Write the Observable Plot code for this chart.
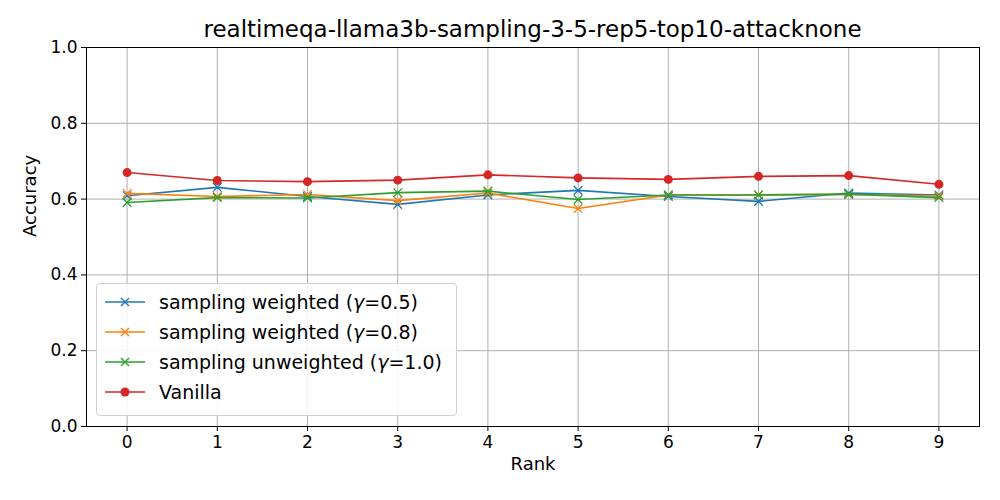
<!DOCTYPE html>
<html><head><meta charset="utf-8">
<script src="https://cdn.jsdelivr.net/npm/d3@7"></script>
<script src="https://cdn.jsdelivr.net/npm/@observablehq/plot@0.6"></script>
<style>
body{margin:0;background:#fff;font-family:"DejaVu Sans",sans-serif;}
#wrap{position:relative;width:1000px;height:500px;}
#title{position:absolute;top:16px;left:86px;width:893px;text-align:center;font-size:23px;}
#legend{position:absolute;left:96px;top:283px;width:359px;height:131px;border:1px solid #d0d0d0;border-radius:4px;background:rgba(255,255,255,0.85);font-size:19px;}
.row{position:absolute;left:8px;height:24px;display:flex;align-items:center;}
.row svg{margin-right:14px;}
</style></head><body>
<div id="wrap"><div id="plot"></div>
<div id="title">realtimeqa-llama3b-sampling-3-5-rep5-top10-attacknone</div>
<div id="legend"></div></div>
<script>
const ranks=[0,1,2,3,4,5,6,7,8,9];
const blue=[0.609,0.631,0.607,0.586,0.611,0.623,0.607,0.594,0.616,0.611];
const orange=[0.615,0.607,0.612,0.596,0.616,0.575,0.611,0.611,0.612,0.608];
const green=[0.591,0.604,0.603,0.617,0.621,0.599,0.611,0.611,0.613,0.604];
const vanilla=[0.670,0.649,0.646,0.650,0.664,0.656,0.652,0.660,0.662,0.639];
const names=["sampling weighted (γ=0.5)","sampling weighted (γ=0.8)","sampling unweighted (γ=1.0)","Vanilla"];
const colors=["#1f77b4","#ff7f0e","#2ca02c","#d62728"];
const series=[blue,orange,green,vanilla];
const marks=[
  Plot.gridX(ranks,{stroke:"#b0b0b0",strokeOpacity:1}),
  Plot.gridY([0,0.2,0.4,0.6,0.8,1.0],{stroke:"#b0b0b0",strokeOpacity:1}),
  Plot.axisX({ticks:ranks,tickSize:5,fontSize:17,tickPadding:4,label:null}),
  Plot.axisY({ticks:[0,0.2,0.4,0.6,0.8,1.0],tickFormat:d3.format(".1f"),tickSize:5,fontSize:17,tickPadding:4,label:null}),
  Plot.text(["Rank"],{frameAnchor:"bottom",dy:43,fontSize:18}),
  Plot.text(["Accuracy"],{frameAnchor:"left",dx:-56,rotate:-90,fontSize:18})
];
series.forEach((s,i)=>{
  const data=ranks.map((r,j)=>({r,v:s[j]}));
  marks.push(Plot.line(data,{x:"r",y:"v",stroke:colors[i],strokeWidth:1.6}));
  if(i<3) marks.push(Plot.dot(data,{x:"r",y:"v",symbol:"times",stroke:colors[i],r:4,strokeWidth:1.3}));
  else marks.push(Plot.dot(data,{x:"r",y:"v",fill:colors[i],r:4.5}));
});
marks.push(Plot.frame({stroke:"#000"}));
const p=Plot.plot({width:1000,height:500,marginTop:47,marginLeft:86,marginRight:21,marginBottom:74,
  style:{fontFamily:"DejaVu Sans",fontSize:"17px",color:"#000"},
  x:{domain:[-0.45,9.45]},y:{domain:[0,1]},marks});
document.getElementById("plot").appendChild(p);
const lg=document.getElementById("legend");
names.forEach((n,i)=>{
  const d=document.createElement("div");d.className="row";d.style.top=(6+i*30)+"px";
  const m=i<3?`<path d="M16,6 L24,14 M24,6 L16,14" stroke="${colors[i]}" stroke-width="1.4"/>`:`<circle cx="20" cy="10" r="4.5" fill="${colors[i]}"/>`;
  d.innerHTML=`<svg width="40" height="20"><line x1="0" x2="40" y1="10" y2="10" stroke="${colors[i]}" stroke-width="1.6"/>${m}</svg><span>${n.replace("γ","<i>γ</i>")}</span>`;
  lg.appendChild(d);
});
</script></body></html>
